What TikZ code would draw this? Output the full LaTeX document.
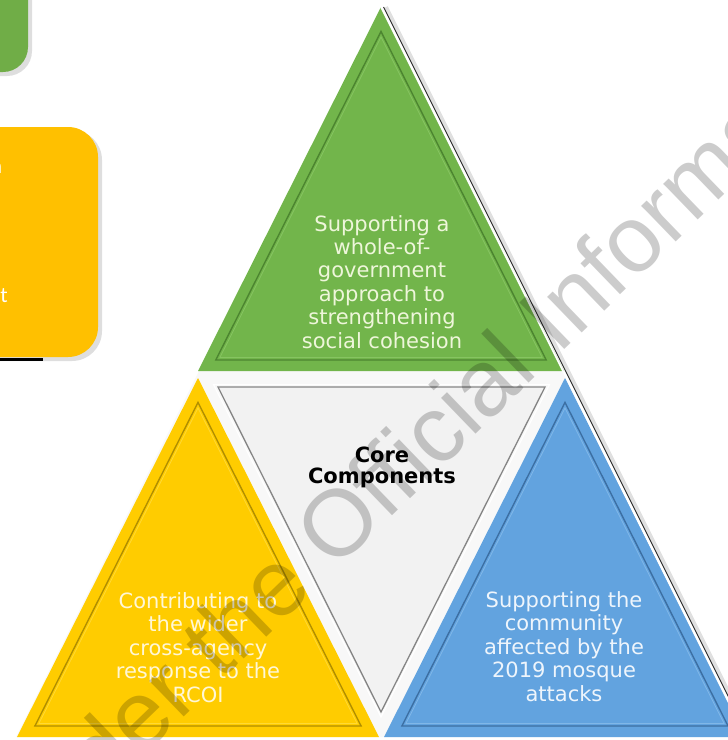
\documentclass[tikz,border=0pt]{standalone}
\usepackage{fontspec}
\setmainfont{DejaVu Sans}
\newfontfamily\wmfont{Liberation Sans}
\newfontfamily\boxfont{Carlito}
\usetikzlibrary{calc}
\definecolor{tgreen}{HTML}{72B54B}
\definecolor{tgreendk}{HTML}{4C8530}
\definecolor{tgreenlt}{HTML}{86C461}
\definecolor{tyellow}{HTML}{FFCC00}
\definecolor{tyellowdk}{HTML}{B08E00}
\definecolor{tyellowlt}{HTML}{FFD933}
\definecolor{tblue}{HTML}{62A3DF}
\definecolor{tbluedk}{HTML}{3C6FA3}
\definecolor{tbluelt}{HTML}{80B7E8}
\definecolor{tcore}{HTML}{F2F2F2}
\definecolor{tgap}{HTML}{F8F8F8}
\definecolor{tcoreline}{HTML}{858585}
\definecolor{boxgreen}{HTML}{70AD47}
\definecolor{boxgold}{HTML}{FFC000}
\definecolor{gtext}{HTML}{EEF6DA}
\definecolor{ytext}{HTML}{FFF7D6}
\definecolor{btext}{HTML}{EEF5FC}
\begin{document}
\begin{tikzpicture}[x=1pt,y=-1pt,
 lbl/.style={align=center,inner sep=0pt,font=\fontsize{21}{23.4}\selectfont},
 corelbl/.style={align=center,inner sep=0pt,font=\bfseries\fontsize{21}{21}\selectfont},
 insetline/.style={line width=1.4pt},
 hiliteline/.style={line width=0.8pt},
 wm/.style={inner sep=0pt,font=\wmfont\fontsize{94}{94}\selectfont,text=black,text opacity=0.2,rotate=44},
 shadowfill/.style={fill=black,opacity=0.13},
 fragtext/.style={inner sep=0pt,text=white,font=\boxfont\fontsize{22}{22}\selectfont}]
\useasboundingbox (0,0) rectangle (728,740);
\fill[white] (0,0) rectangle (728,740);
\clip (0,0) rectangle (728,740);

% partial boxes on the left
\fill[shadowfill, rounded corners=25pt] (-80,-80) rectangle (32,76);
\fill[boxgreen, rounded corners=25pt] (-80,-80) rectangle (28,72);
\fill[shadowfill, rounded corners=30pt] (-80,130) rectangle (102,361);
\fill[boxgold, rounded corners=30pt] (-80,127) rectangle (98,357);
\fill[black] (0,357.5) rectangle (43,361);
\node[fragtext, anchor=base east] (frag1) at (2.5,173) {n};
\node[fragtext, anchor=base east] (frag2) at (8,302) {t};

% big triangle
\coordinate (A) at (381,7);
\coordinate (BL) at (16,737);
\coordinate (BR) at (746,737);
\draw[black, opacity=0.12, line width=4pt] ([xshift=5pt]A) -- ([xshift=5pt]BR);
\fill[tgap] (A) -- (BL) -- (BR) -- cycle;
\draw[black!85, line width=0.9pt] ([xshift=2.6pt]A) -- ([xshift=2.6pt]BR);

% green
\fill[tgreen] (381,7) -- (198,371) -- (564,371) -- cycle;
\draw[tgreendk, insetline] (381,31.5) -- (215.8,360) -- (546.2,360) -- cycle;
\draw[tgreenlt, hiliteline] (381,37.1) -- (219.9,357.5) -- (542.1,357.5) -- cycle;

% yellow
\fill[tyellow] (198,378) -- (17,737) -- (379,737) -- cycle;
\draw[tyellowdk, insetline] (198,402.4) -- (34.9,726) -- (361.1,726) -- cycle;
\draw[tyellowlt, hiliteline] (198,408) -- (38.9,723.5) -- (357.1,723.5) -- cycle;

% blue
\fill[tblue] (565,378) -- (384,737) -- (746,737) -- cycle;
\draw[tbluedk, insetline] (565,402.4) -- (401.9,726) -- (728.1,726) -- cycle;
\draw[tbluelt, hiliteline] (565,408) -- (405.9,723.5) -- (724.1,723.5) -- cycle;

% centre
\fill[tcore] (218,387) -- (545,387) -- (381,712) -- cycle;
\draw[white, line width=1.2pt] (213.5,384.5) -- (549.5,384.5) -- (381,717) -- cycle;
\draw[tcoreline, line width=1.3pt] (218,387) -- (545,387) -- (381,712) -- cycle;

\draw[white, line width=1.6pt] (A) -- (BR);

% labels (anchor base = baseline of last line)
\node[lbl, text=gtext, anchor=base] (gtxt) at (382,348)
  {Supporting a\\whole-of-\\government\\approach to\\strengthening\\social cohesion};
\node[lbl, text=ytext, anchor=base] (ytxt) at (198,702)
  {Contributing to\\the wider\\cross-agency\\response to the\\RCOI};
\node[lbl, text=btext, anchor=base] (btxt) at (564,701)
  {Supporting the\\community\\affected by the\\2019 mosque\\attacks};
\node[corelbl, text=black, anchor=base] (core) at (382,483) {Core\\Components};

% watermark
\node[wm, anchor=base west] (wmb) at (334,572) {Official Information Act};
\node[wm, anchor=base east] (wma) at (wmb.base west) {Released under the\hspace*{0.278em}};
\end{tikzpicture}
\end{document}
